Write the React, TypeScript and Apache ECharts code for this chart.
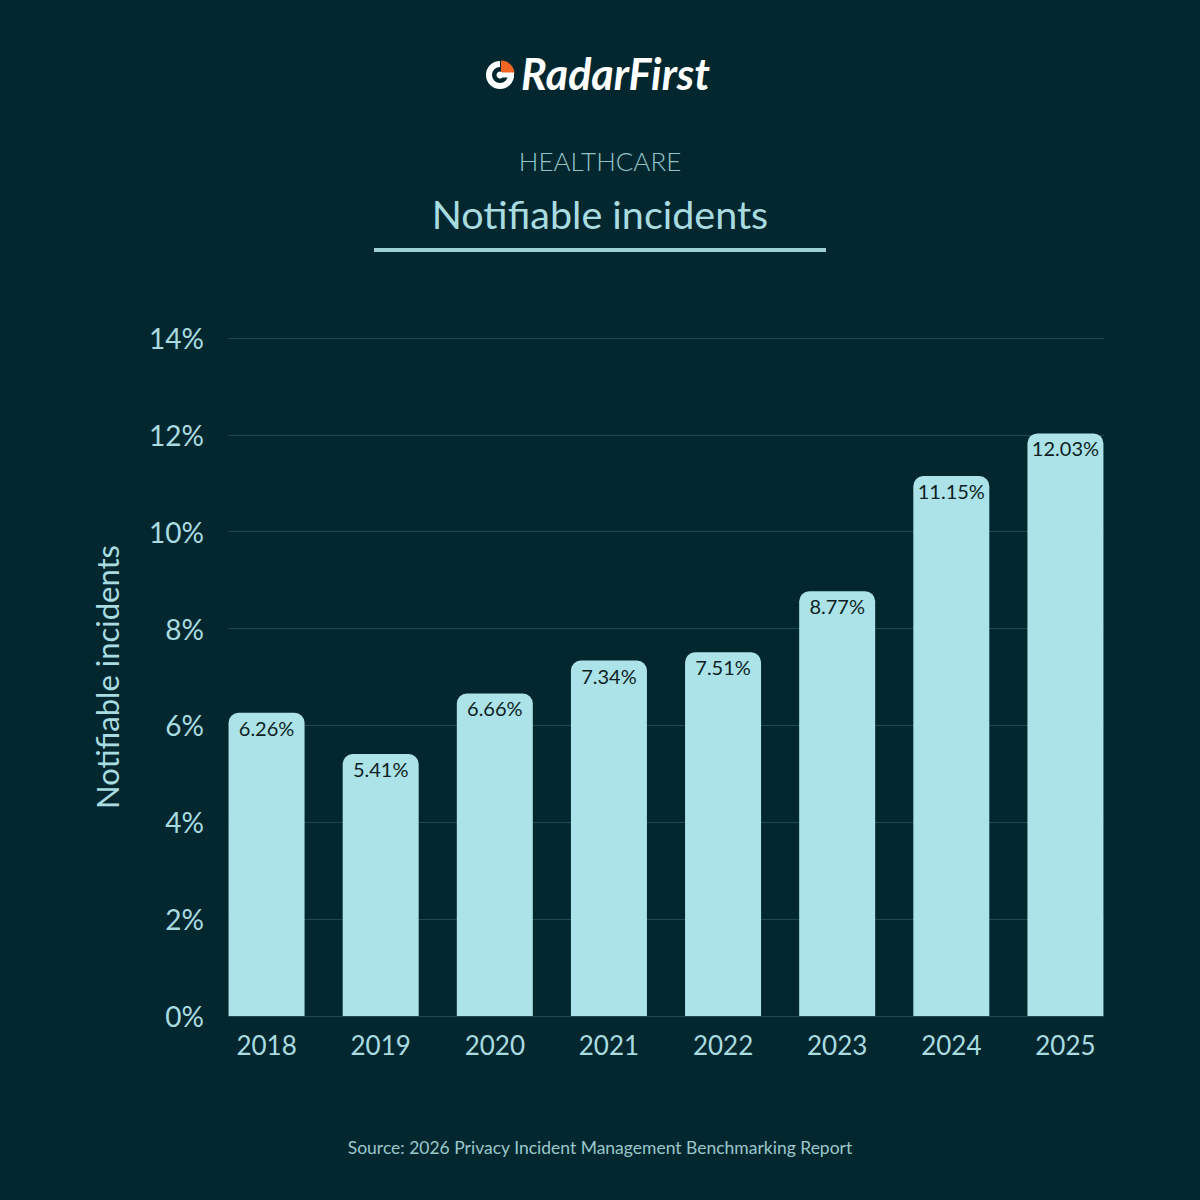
import React, { useEffect, useRef } from "react";
import * as echarts from "echarts";

const categories = ["2018", "2019", "2020", "2021", "2022", "2023", "2024", "2025"];
const values = [6.26, 5.41, 6.66, 7.34, 7.51, 8.77, 11.15, 12.03];
const yMin = 0;
const yMax = 14;
const yInterval = 2;

const BG = "#03272f";
const BAR = "#abe3e8";
const TXT = "#a9dce1";
const FONT = "Lato, 'Open Sans', sans-serif";

export default function App() {
  const ref = useRef<HTMLDivElement>(null);
  useEffect(() => {
    if (!ref.current) return;
    const chart = echarts.init(ref.current, undefined, { renderer: "svg" });
    const top = 338;
    const bottom = 1200 - 1016;
    chart.setOption({
      animation: false,
      backgroundColor: BG,
      textStyle: { fontFamily: FONT },
      grid: [
        { left: 228, right: 96, top, bottom },
        { left: 209.5, width: 913, top, bottom },
      ],
      xAxis: [
        { type: "category", gridIndex: 0, data: categories, show: false },
        {
          type: "category",
          gridIndex: 1,
          data: categories,
          axisLine: { show: false },
          axisTick: { show: false },
          axisLabel: { color: TXT, fontSize: 26, margin: 16, fontFamily: FONT },
        },
      ],
      yAxis: [
        {
          type: "value",
          gridIndex: 0,
          min: yMin,
          max: yMax,
          interval: yInterval,
          name: "Notifiable incidents",
          nameLocation: "middle",
          nameGap: 106,
          nameRotate: 90,
          nameTextStyle: { color: TXT, fontSize: 31, fontFamily: FONT },
          axisLine: { show: false },
          axisTick: { show: false },
          axisLabel: {
            formatter: "{value}%",
            color: TXT,
            fontSize: 28,
            margin: 24,
            fontFamily: FONT,
          },
          splitLine: { lineStyle: { color: "#1d4950", width: 1 } },
        },
        {
          type: "value",
          gridIndex: 1,
          min: yMin,
          max: yMax,
          interval: yInterval,
          show: false,
          splitLine: { show: false },
        },
      ],
      series: [
        {
          type: "bar",
          xAxisIndex: 1,
          yAxisIndex: 1,
          data: values,
          barWidth: 76,
          itemStyle: { color: BAR, borderRadius: [10, 10, 0, 0] },
          label: {
            show: true,
            position: "insideTop",
            distance: 5,
            formatter: (p: any) => p.value.toFixed(2) + "%",
            color: "#0d1f24",
            fontSize: 20,
            fontFamily: FONT,
          },
        },
      ],
      graphic: [
        // logo icon
        {
          type: "arc",
          shape: { cx: 500, cy: 75, r: 11, startAngle: 0, endAngle: Math.PI * 1.5 },
          style: { stroke: "#ffffff", lineWidth: 6, fill: "none" },
        },
        {
          type: "sector",
          shape: { cx: 501, cy: 74, r0: 0, r: 13.5, startAngle: -Math.PI / 2, endAngle: 0 },
          style: { fill: "#f26522" },
        },
        {
          type: "rect",
          shape: { x: 499, y: 72.5, width: 15, height: 5 },
          style: { fill: "#ffffff" },
        },
        {
          type: "circle",
          shape: { cx: 500, cy: 75, r: 3.5 },
          style: { fill: "#ffffff" },
        },
        {
          type: "text",
          left: 521,
          top: 52,
          style: {
            text: "RadarFirst",
            fill: "#ffffff",
            fontSize: 43,
            fontWeight: "bold",
            fontStyle: "italic",
            fontFamily: FONT,
          },
        },
        {
          type: "text",
          x: 600,
          y: 161,
          style: {
            text: "HEALTHCARE",
            fill: "#8fc3c8",
            fontSize: 26,
            fontWeight: 300,
            fontFamily: FONT,
            align: "center",
            verticalAlign: "middle",
          },
        },
        {
          type: "text",
          x: 600,
          y: 213,
          style: {
            text: "Notifiable incidents",
            fill: TXT,
            fontSize: 39.5,
            fontFamily: FONT,
            align: "center",
            verticalAlign: "middle",
          },
        },
        {
          type: "rect",
          shape: { x: 374, y: 248, width: 452, height: 4 },
          style: { fill: "#9fd0d5" },
        },
        {
          type: "text",
          x: 600,
          y: 1147,
          style: {
            text: "Source: 2026 Privacy Incident Management Benchmarking Report",
            fill: "#9ac7cb",
            fontSize: 17.5,
            fontFamily: FONT,
            align: "center",
            verticalAlign: "middle",
          },
        },
      ],
    });
    return () => chart.dispose();
  }, []);
  return (
    <div
      ref={ref}
      style={{ position: "absolute", left: 0, top: 0, width: 1200, height: 1200 }}
    />
  );
}
